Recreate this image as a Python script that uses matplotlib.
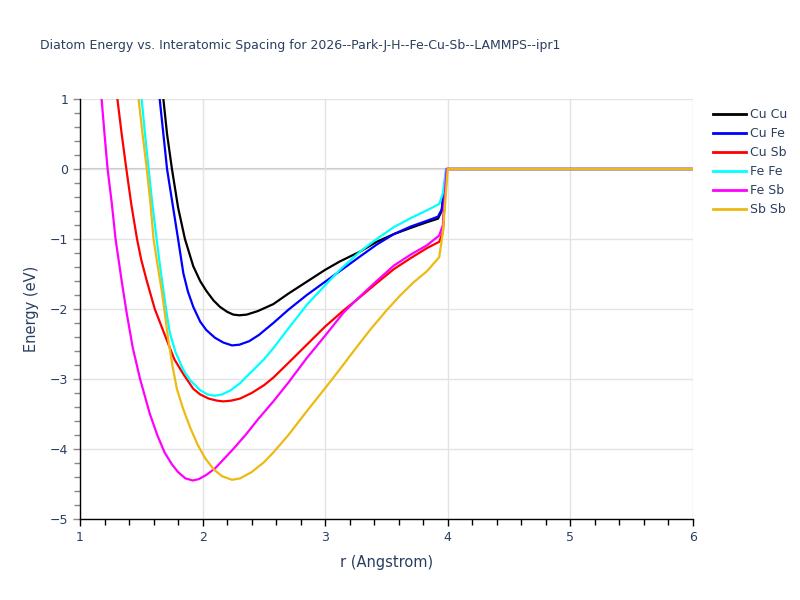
import matplotlib
matplotlib.use("Agg")
import matplotlib.pyplot as plt
from matplotlib.ticker import MultipleLocator

title = "Diatom Energy vs. Interatomic Spacing for 2026--Park-J-H--Fe-Cu-Sb--LAMMPS--ipr1"

labels = ["Cu Cu", "Cu Fe", "Cu Sb", "Fe Fe", "Fe Sb", "Sb Sb"]
colors = ["#000000", "#0000ff", "#ff0000", "#00ffff", "#ff00ff", "#ecba13"]

r_cucu = [1.655, 1.68, 1.71, 1.75, 1.80, 1.856, 1.924, 1.98, 2.03, 2.09, 2.142, 2.20, 2.25, 2.30, 2.36, 2.45, 2.577, 2.70, 2.85, 3.00, 3.12, 3.284, 3.42, 3.56, 3.70, 3.83, 3.92, 3.95, 3.99, 6.0]
e_cucu = [1.3, 1.0, 0.5, 0.0, -0.55, -1.0, -1.39, -1.60, -1.74, -1.88, -1.97, -2.04, -2.08, -2.09, -2.08, -2.03, -1.93, -1.78, -1.61, -1.44, -1.32, -1.18, -1.04, -0.93, -0.84, -0.76, -0.71, -0.6, 0.0, 0.0]

r_cufe = [1.63, 1.65, 1.68, 1.71, 1.755, 1.80, 1.843, 1.88, 1.924, 1.98, 2.03, 2.10, 2.17, 2.24, 2.30, 2.38, 2.46, 2.577, 2.70, 2.85, 3.00, 3.15, 3.284, 3.42, 3.56, 3.70, 3.83, 3.92, 3.95, 3.99, 6.0]
e_cufe = [1.3, 1.0, 0.5, 0.0, -0.5, -1.0, -1.49, -1.75, -1.97, -2.18, -2.30, -2.41, -2.48, -2.52, -2.51, -2.46, -2.37, -2.20, -2.01, -1.80, -1.61, -1.42, -1.25, -1.08, -0.93, -0.82, -0.74, -0.68, -0.58, 0.0, 0.0]

r_cusb = [1.29, 1.305, 1.34, 1.378, 1.418, 1.465, 1.50, 1.545, 1.61, 1.707, 1.77, 1.843, 1.924, 1.98, 2.05, 2.12, 2.17, 2.23, 2.305, 2.40, 2.50, 2.577, 2.70, 2.85, 3.00, 3.15, 3.284, 3.42, 3.56, 3.70, 3.83, 3.93, 3.96, 3.99, 6.0]
e_cusb = [1.3, 1.0, 0.5, 0.0, -0.5, -1.0, -1.3, -1.6, -2.0, -2.44, -2.72, -2.93, -3.14, -3.22, -3.28, -3.31, -3.32, -3.31, -3.28, -3.20, -3.09, -2.98, -2.77, -2.51, -2.25, -2.02, -1.83, -1.63, -1.43, -1.27, -1.13, -1.04, -0.9, 0.0, 0.0]

r_fefe = [1.49, 1.503, 1.53, 1.56, 1.59, 1.625, 1.65, 1.68, 1.71, 1.734, 1.78, 1.843, 1.90, 1.98, 2.04, 2.10, 2.16, 2.23, 2.305, 2.414, 2.50, 2.577, 2.69, 2.85, 3.00, 3.12, 3.284, 3.42, 3.56, 3.70, 3.83, 3.93, 3.96, 3.985, 6.0]
e_fefe = [1.3, 1.0, 0.5, 0.0, -0.5, -1.0, -1.35, -1.73, -2.1, -2.35, -2.62, -2.87, -3.02, -3.16, -3.22, -3.24, -3.22, -3.16, -3.06, -2.87, -2.72, -2.56, -2.30, -1.94, -1.66, -1.44, -1.18, -1.0, -0.83, -0.70, -0.59, -0.5, -0.35, 0.0, 0.0]

r_fesb = [1.165, 1.176, 1.20, 1.225, 1.26, 1.29, 1.34, 1.38, 1.43, 1.49, 1.57, 1.63, 1.69, 1.75, 1.80, 1.86, 1.92, 1.97, 2.03, 2.10, 2.17, 2.25, 2.35, 2.45, 2.577, 2.70, 2.85, 3.00, 3.15, 3.284, 3.42, 3.56, 3.70, 3.83, 3.93, 3.96, 3.99, 6.0]
e_fesb = [1.3, 1.0, 0.5, 0.0, -0.5, -1.0, -1.6, -2.05, -2.55, -3.0, -3.5, -3.8, -4.05, -4.22, -4.33, -4.42, -4.45, -4.43, -4.37, -4.28, -4.15, -4.0, -3.8, -3.58, -3.32, -3.05, -2.70, -2.38, -2.05, -1.82, -1.60, -1.38, -1.22, -1.09, -0.95, -0.8, 0.0, 0.0]

r_sbsb = [1.465, 1.478, 1.51, 1.545, 1.575, 1.60, 1.635, 1.666, 1.695, 1.72, 1.755, 1.79, 1.84, 1.90, 1.96, 2.02, 2.09, 2.16, 2.24, 2.305, 2.40, 2.50, 2.577, 2.70, 2.85, 3.00, 3.12, 3.25, 3.37, 3.50, 3.61, 3.72, 3.83, 3.93, 3.96, 4.0, 6.0]
e_sbsb = [1.3, 1.0, 0.5, 0.0, -0.5, -1.0, -1.4, -1.73, -2.1, -2.44, -2.82, -3.14, -3.42, -3.7, -3.94, -4.13, -4.29, -4.39, -4.44, -4.42, -4.33, -4.19, -4.05, -3.80, -3.46, -3.13, -2.86, -2.56, -2.29, -2.02, -1.81, -1.62, -1.46, -1.26, -0.9, 0.0, 0.0]

series = [(r_cucu, e_cucu), (r_cufe, e_cufe), (r_cusb, e_cusb),
          (r_fefe, e_fefe), (r_fesb, e_fesb), (r_sbsb, e_sbsb)]

xticks = [1, 2, 3, 4, 5, 6]
yticks = [-5, -4, -3, -2, -1, 0, 1]

txt = "#2a3f5f"
plt.rcParams['font.family'] = ['DejaVu Sans']

fig = plt.figure(figsize=(8, 6), dpi=100)
ax = fig.add_axes([0.1, 0.135, 0.76625, 0.70])

for (r, e), lab, c in zip(series, labels, colors):
    ax.plot(r, e, color=c, lw=1.6, label=lab, zorder=3)

ax.set_xlim(1, 6)
ax.set_ylim(-5, 1)
ax.set_xticks(xticks)
ax.set_yticks(yticks)
ax.set_yticklabels(["\u22125", "\u22124", "\u22123", "\u22122", "\u22121", "0", "1"])
ax.xaxis.set_minor_locator(MultipleLocator(0.2))
ax.yaxis.set_minor_locator(MultipleLocator(0.2))
ax.grid(True, which='major', color="#e3e3e3", lw=1.0, zorder=0)
ax.axhline(0, color="#c8c8c8", lw=1.5, zorder=1)

for s in ['top', 'right']:
    ax.spines[s].set_visible(False)
for s in ['left', 'bottom']:
    ax.spines[s].set_color('black')
    ax.spines[s].set_linewidth(1.0)

ax.tick_params(axis='x', which='both', direction='out', color='black', labelcolor=txt, labelsize=9)
ax.tick_params(axis='x', which='major', length=5, width=1)
ax.tick_params(axis='x', which='minor', length=4, width=1)
ax.tick_params(axis='y', which='both', direction='out', color='#888888', labelcolor=txt, labelsize=9)
ax.tick_params(axis='y', which='major', length=5, width=1)
ax.tick_params(axis='y', which='minor', length=4, width=1)

ax.set_xlabel("r (Angstrom)", color=txt, fontsize=10.5, labelpad=8)
ax.set_ylabel("Energy (eV)", color=txt, fontsize=10.5, labelpad=8)

fig.text(40 / 800, 1 - 45 / 600, title, color=txt, fontsize=9, ha='left', va='center')

leg = ax.legend(loc='upper left', bbox_to_anchor=(1.025, 0.99), frameon=False,
                fontsize=9, handlelength=2.6, handletextpad=0.35, labelspacing=0.48,
                borderaxespad=0.0)
for t in leg.get_texts():
    t.set_color(txt)
for l in leg.get_lines():
    l.set_linewidth(2)

fig.savefig("out.png", dpi=100)
